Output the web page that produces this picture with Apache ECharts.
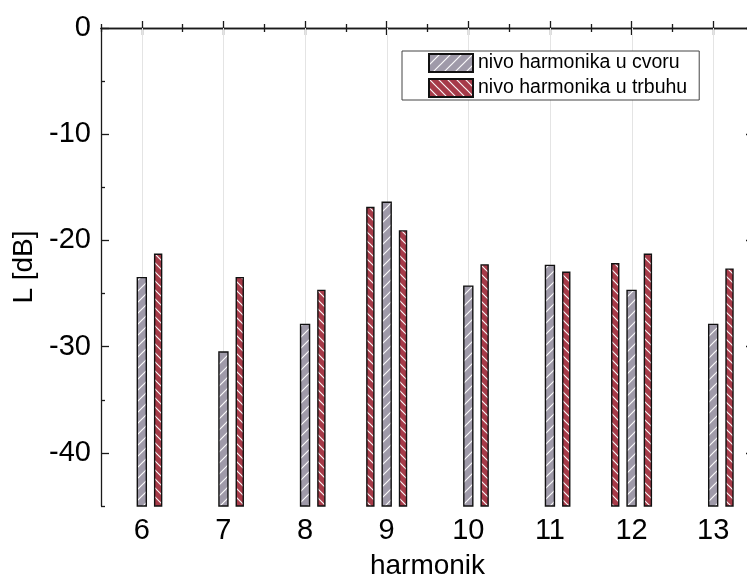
<!DOCTYPE html>
<html>
<head>
<meta charset="utf-8">
<script src="https://cdn.jsdelivr.net/npm/echarts@6/dist/echarts.min.js"></script>
<style>html,body{margin:0;padding:0;background:#fff}#c{width:747px;height:576px}</style>
</head>
<body>
<div id="c"></div>
<script>
// ---- data ----
var xTicks = [6, 7, 8, 9, 10, 11, 12, 13];
var xMinorTicks = [5.5, 6.5, 7.5, 8.5, 9.5, 10.5, 11.5, 12.5, 13.5];
var yTicks = [-40, -30, -20, -10, 0];
var yMinorTicks = [-45, -35, -25, -15, -5];
var cvoruX = [6, 7, 8, 9, 10, 11, 12, 13];
var cvoruY = [-23.5, -30.5, -27.9, -16.4, -24.3, -22.35, -24.7, -27.9];
var trbuhuX = [6.2, 7.2, 8.2, 8.8, 9.2, 10.2, 11.2, 11.8, 12.2, 13.2];
var trbuhuY = [-21.3, -23.5, -24.7, -16.9, -19.1, -22.3, -23.0, -22.2, -21.3, -22.7];
var seriesNames = ['nivo harmonika u cvoru', 'nivo harmonika u trbuhu'];
var yMin = -45, yMax = 0, xMin = 5.5, xMax = 13.5;

function hatch(bg, size, dir) {
  var c = document.createElement('canvas');
  c.width = size; c.height = size;
  var g = c.getContext('2d');
  g.fillStyle = bg; g.fillRect(0, 0, size, size);
  g.strokeStyle = 'rgba(255,255,255,0.95)';
  g.lineWidth = 1.2;
  g.beginPath();
  if (dir === '/') {
    g.moveTo(-2, size + 2); g.lineTo(size + 2, -2);
    g.moveTo(-2, 2); g.lineTo(2, -2);
    g.moveTo(size - 2, size + 2); g.lineTo(size + 2, size - 2);
  } else {
    g.moveTo(-2, -2); g.lineTo(size + 2, size + 2);
    g.moveTo(size - 2, -2); g.lineTo(size + 2, 2);
    g.moveTo(-2, size - 2); g.lineTo(2, size + 2);
  }
  g.stroke();
  return { image: c, repeat: 'repeat' };
}
var greyFill = hatch('#9f9aa9', 11, '/');
var redFill = hatch('#a63a48', 9, '\\');

function pairs(xs, ys) { return xs.map(function (x, i) { return [x, ys[i]]; }); }

function makeRender(w) {
  return function (params, api) {
    var x = api.value(0), y = api.value(1);
    var top = api.coord([x, y]);
    var base = api.coord([x, yMin]);
    return {
      type: 'rect',
      shape: { x: top[0] - w / 2, y: top[1], width: w, height: base[1] - top[1] },
      style: api.style()
    };
  };
}

var font = 'Liberation Sans, Arial, sans-serif';
var axisLine = { show: true, lineStyle: { color: '#1a1a1a', width: 1.3 } };

function xAx(pos, main, ticks, len, labels) {
  return {
    type: 'value', position: pos, min: xMin, max: xMax,
    axisLine: main ? axisLine : { show: false },
    axisTick: { show: true, inside: true, length: len, customValues: ticks, lineStyle: { color: '#1a1a1a', width: 1.3 } },
    axisLabel: labels ? { show: true, customValues: xTicks, fontSize: 29, color: '#000', fontFamily: font, margin: 10 } : { show: false },
    splitLine: { show: false }
  };
}
function yAx(pos, main, ticks, len, labels) {
  return {
    type: 'value', position: pos, min: yMin, max: yMax,
    axisLine: main ? axisLine : { show: false },
    axisTick: { show: true, inside: true, length: len, customValues: ticks, lineStyle: { color: '#1a1a1a', width: 1.3 } },
    axisLabel: labels ? { show: true, customValues: yTicks, fontSize: 29, color: '#000', fontFamily: font, margin: 10 } : { show: false },
    splitLine: { show: false }
  };
}

var xa0 = xAx('bottom', true, xTicks, 7, true);
xa0.name = 'harmonik';
xa0.nameLocation = 'middle';
xa0.nameGap = 46;
xa0.nameTextStyle = { fontSize: 28, color: '#000', fontFamily: font };
var xa1 = xAx('top', true, xTicks, 7, false);
var xa2 = xAx('bottom', false, xMinorTicks, 4, false);
var xa3 = xAx('top', false, xMinorTicks, 4, false);
var ya0 = yAx('left', true, yTicks, 8, true);
ya0.name = 'L [dB]';
ya0.nameLocation = 'middle';
ya0.nameGap = 59;
ya0.nameTextStyle = { fontSize: 28, color: '#000', fontFamily: font };
var ya1 = yAx('right', true, yTicks, 8, false);
var ya2 = yAx('left', false, yMinorTicks, 4, false);
var ya3 = yAx('right', false, yMinorTicks, 4, false);

var chart = echarts.init(document.getElementById('c'), null, { renderer: 'canvas' });
chart.setOption({
  animation: false,
  backgroundColor: '#fff',
  grid: { left: 101, top: 28, right: -7, bottom: 70, containLabel: false, outerBoundsMode: 'none' },
  legend: {
    left: 402, top: 51, orient: 'vertical',
    data: seriesNames,
    itemWidth: 44, itemHeight: 18, itemGap: 5,
    padding: [2, 12, 2, 26],
    borderColor: '#444', borderWidth: 1, backgroundColor: '#fff',
    icon: 'rect',
    textStyle: { fontSize: 19.5, color: '#000', fontFamily: font, lineHeight: 18, padding: [0, 0, 0, 0] }
  },
  xAxis: [xa0, xa1, xa2, xa3],
  yAxis: [ya0, ya1, ya2, ya3],
  series: [
    {
      type: 'custom', name: '_grid', silent: true, z: 1, xAxisIndex: 0, yAxisIndex: 0,
      data: xTicks.map(function (x) { return [x, yMax]; }),
      renderItem: function (params, api) {
        var a = api.coord([api.value(0), yMax]);
        var b = api.coord([api.value(0), yMin]);
        return { type: 'line', shape: { x1: Math.round(a[0]) + 0.5, y1: a[1], x2: Math.round(a[0]) + 0.5, y2: b[1] }, style: { stroke: '#e4e4e4', lineWidth: 1 } };
      }
    },
    {
      type: 'custom', name: seriesNames[0], z: 3, xAxisIndex: 0, yAxisIndex: 0,
      itemStyle: { color: greyFill, borderColor: '#111', borderWidth: 1.4 },
      data: pairs(cvoruX, cvoruY),
      renderItem: makeRender(9)
    },
    {
      type: 'custom', name: seriesNames[1], z: 3, xAxisIndex: 0, yAxisIndex: 0,
      itemStyle: { color: redFill, borderColor: '#111', borderWidth: 1.4 },
      data: pairs(trbuhuX, trbuhuY),
      renderItem: makeRender(7)
    }
  ]
});
</script>
</body>
</html>
